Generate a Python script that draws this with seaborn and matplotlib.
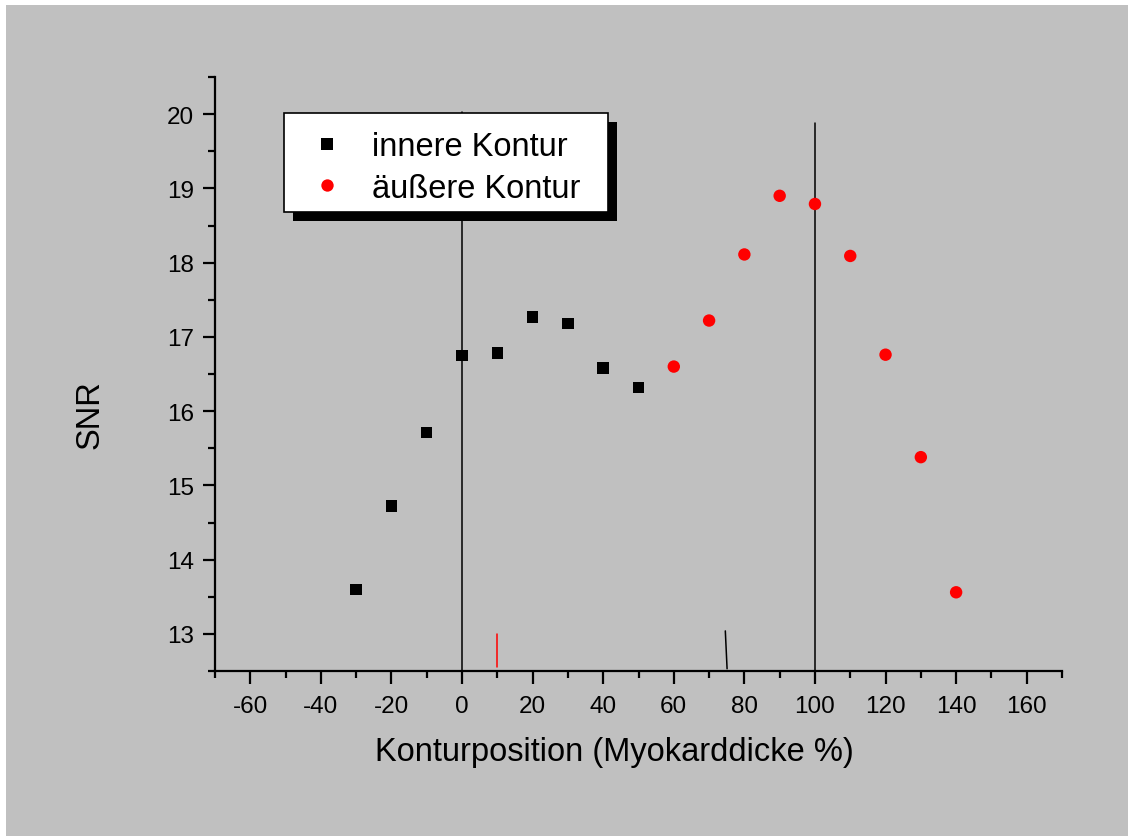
import matplotlib
matplotlib.use("Agg")
import matplotlib.pyplot as plt
import seaborn as sns
import pandas as pd
from matplotlib.patches import Rectangle
from matplotlib.lines import Line2D
from matplotlib.ticker import MultipleLocator

# ---- data ----
inner_x = [-30, -20, -10, 0, 10, 20, 30, 40, 50]
inner_y = [13.60, 14.72, 15.71, 16.75, 16.78, 17.27, 17.18, 16.58, 16.32]
outer_x = [60, 70, 80, 90, 100, 110, 120, 130, 140]
outer_y = [16.60, 17.22, 18.11, 18.90, 18.79, 18.09, 16.76, 15.38, 13.56]
series_names = ["innere Kontur", "äußere Kontur"]

vline_x = [0, 100]
vline_top = [20.03, 19.88]
red_mark_x = [10, 10]
red_mark_y = [13.0, 12.55]
black_mark_x = [74.6, 75.1]
black_mark_y = [13.04, 12.53]

x_label = "Konturposition (Myokarddicke %)"
y_label = "SNR"

df = pd.DataFrame({
    "x": inner_x + outer_x,
    "y": inner_y + outer_y,
    "series": [series_names[0]] * len(inner_x) + [series_names[1]] * len(outer_x),
})

sns.set_theme(style="ticks")
plt.rcParams["font.family"] = ["Liberation Sans", "DejaVu Sans"]
plt.rcParams["axes.unicode_minus"] = False
plt.rcParams["text.color"] = "black"
plt.rcParams["axes.labelcolor"] = "black"
plt.rcParams["xtick.color"] = "black"
plt.rcParams["ytick.color"] = "black"

W, H = 1128, 837
fig = plt.figure(figsize=(W / 100, H / 100), dpi=100, facecolor="white")
GRAY = "#c0c0c0"
fig.patches.append(Rectangle((6 / W, 0), 1, 1 - 6 / H, transform=fig.transFigure,
                             facecolor=GRAY, edgecolor="none", zorder=-10))

ax = fig.add_axes([215 / W, 1 - 672 / H, (1062 - 215) / W, (672 - 78) / H])
ax.set_facecolor(GRAY)

# reference lines
for xv, top in zip(vline_x, vline_top):
    ax.plot([xv, xv], [12.5, top], color="black", lw=1.1, zorder=1)
ax.plot(red_mark_x, red_mark_y, color="red", lw=1.1, zorder=1)
ax.plot(black_mark_x, black_mark_y, color="black", lw=1.1, zorder=1)

sns.scatterplot(data=df, x="x", y="y", hue="series", style="series",
                palette={series_names[0]: "black", series_names[1]: "red"},
                markers={series_names[0]: "s", series_names[1]: "o"},
                size="series", sizes={series_names[0]: 68, series_names[1]: 80},
                linewidth=0, ax=ax, legend=False, zorder=3)

ax.set_xlim(-70, 170)
ax.set_ylim(12.5, 20.5)
ax.xaxis.set_major_locator(MultipleLocator(20))
ax.xaxis.set_minor_locator(MultipleLocator(10))
ax.yaxis.set_major_locator(MultipleLocator(1))
ax.yaxis.set_minor_locator(MultipleLocator(0.5))

for side in ["top", "right"]:
    ax.spines[side].set_visible(False)
for side in ["left", "bottom"]:
    ax.spines[side].set_linewidth(1.6)
    ax.spines[side].set_color("black")

ax.tick_params(axis="both", which="major", direction="out", length=9, width=1.6,
               labelsize=17.5, colors="black")
ax.tick_params(axis="both", which="minor", direction="out", length=5, width=1.6)
ax.tick_params(axis="x", which="major", pad=8)
ax.tick_params(axis="y", which="major", pad=6)

ax.set_xlabel(x_label, fontsize=23.5, color="black")
ax.set_ylabel(y_label, fontsize=23.5, color="black")
ax.xaxis.set_label_coords((614 - 215) / 847, (672 - 752) / 594)
ax.xaxis.label.set_va("center")
ax.yaxis.set_label_coords((90 - 215) / 847, (672 - 415) / 594)
ax.yaxis.label.set_va("center")

# legend box (white frame + solid black shadow), pixel positions of the frame
bx0, by0, bx1, by1 = 284, 114, 608, 213  # left, top, right, bottom (image px)
off = 9
ax.add_artist(Rectangle((bx0 + off, H - by1 - off), bx1 - bx0, by1 - by0,
                        transform=None, facecolor="black", edgecolor="none",
                        zorder=8, clip_on=False))
ax.add_artist(Rectangle((bx0, H - by1), bx1 - bx0, by1 - by0,
                        transform=None, facecolor="white", edgecolor="black",
                        linewidth=1.2, zorder=9, clip_on=False))

handles = [
    Line2D([], [], ls="none", marker="s", color="black", markersize=8.0, markeredgewidth=0),
    Line2D([], [], ls="none", marker="o", color="red", markersize=8.9, markeredgewidth=0),
]
leg = ax.legend(handles, series_names, loc="upper left",
                bbox_to_anchor=(311 / W, 1 - 132 / H), bbox_transform=fig.transFigure,
                fontsize=23.5, frameon=False, borderpad=0,
                handletextpad=0.87, labelspacing=0.33, borderaxespad=0,
                handlelength=1.0, labelcolor="black")
leg.set_zorder(10)

fig.savefig("out.png", dpi=100, facecolor=fig.get_facecolor())
